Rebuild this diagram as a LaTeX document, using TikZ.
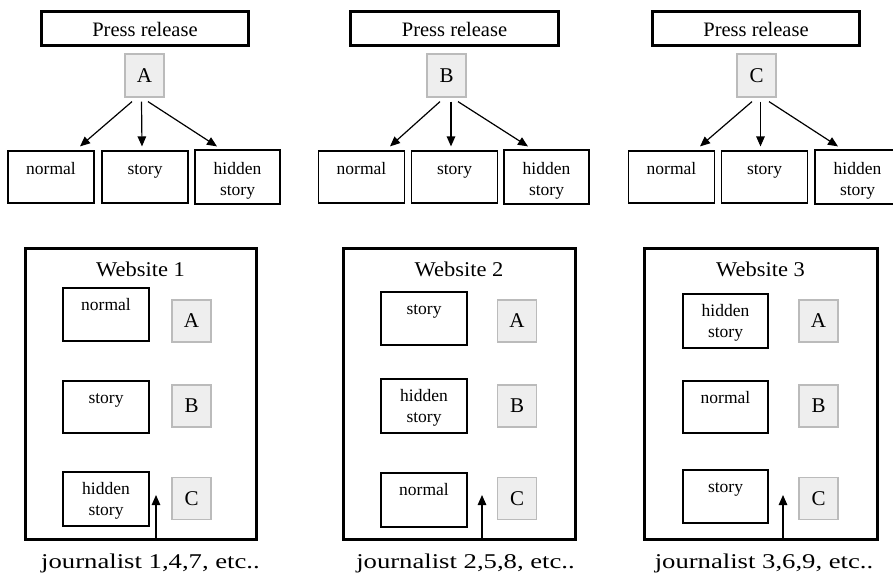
\documentclass[tikz,border=0pt]{standalone}
\usepackage{fontspec}
\setmainfont{Liberation Serif}
\usetikzlibrary{arrows.meta}
\definecolor{grayfill}{HTML}{EEEEEE}
\definecolor{grayline}{HTML}{BBBBBB}
\newcommand{\wide}[2]{\scalebox{#1}[1]{#2}}
\begin{document}
\begin{tikzpicture}[x=1pt,y=-1pt,
  thinbox/.style={draw=black,line width=1.2pt,inner sep=0pt,minimum width=86pt,minimum height=53pt},
  thickbox/.style={draw=black,line width=3pt,inner sep=0pt},
  letterbox/.style={draw=grayline,fill=grayfill,line width=1.2pt,inner sep=0pt,minimum width=39pt,minimum height=42pt,font=\fontsize{21}{24}\selectfont},
  lbl/.style={anchor=base,inner sep=0pt,font=\fontsize{17.5}{21}\selectfont},
  big/.style={anchor=base,inner sep=0pt,font=\fontsize{20.5}{24}\selectfont},
  web/.style={anchor=base,inner sep=0pt,font=\fontsize{21}{24}\selectfont},
  arr/.style={line width=1.2pt,-{Triangle[length=10pt,width=8.5pt]}}
]
\path[use as bounding box] (0,0) rectangle (893,576);
\clip (0,0) rectangle (893,576);

% ---------------- top panels ----------------
% panel 1
\node[thickbox,minimum width=207pt,minimum height=34pt] (pr1) at (145,28.5) {};
\node[big] at (145,36) {Press release};
\node[letterbox,minimum height=43pt] (ga) at (144.5,75.5) {A};
\node[thinbox,minimum height=52pt] (t1n) at (51,177) {};
\node[thinbox,minimum height=52pt] (t1s) at (145,177) {};
\node[thinbox,minimum width=85pt,minimum height=54pt] (t1h) at (237.5,177) {};
\node[lbl] at ([yshift=-24pt]t1n.north) {normal};
\node[lbl] at ([yshift=-24pt]t1s.north) {story};
\node[lbl] at ([yshift=-25pt]t1h.north) {\begin{tabular}[t]{@{}c@{}}hidden\\story\end{tabular}};
\draw[arr] ([xshift=-12.5pt,yshift=-4pt]ga.south) -- ([xshift=29pt,yshift=4pt]t1n.north);
\draw[arr] ([xshift=-3pt,yshift=-4pt]ga.south) -- ([xshift=-3pt,yshift=4pt]t1s.north);
\draw[arr] ([xshift=3.5pt,yshift=-4pt]ga.south) -- ([xshift=-20.5pt,yshift=3pt]t1h.north);

% panel 2
\node[thickbox,minimum width=208pt,minimum height=34pt] (pr2) at (454.5,28.5) {};
\node[big] at (454.5,36) {Press release};
\node[letterbox,minimum height=43pt] (gb) at (446.5,75.5) {B};
\node[thinbox,minimum height=52pt] (t2n) at (361.5,177) {};
\node[thinbox,minimum height=52pt] (t2s) at (454.5,177) {};
\node[thinbox,minimum width=85pt,minimum height=54pt] (t2h) at (546.5,177) {};
\node[lbl] at ([yshift=-24pt]t2n.north) {normal};
\node[lbl] at ([yshift=-24pt]t2s.north) {story};
\node[lbl] at ([yshift=-25pt]t2h.north) {\begin{tabular}[t]{@{}c@{}}hidden\\story\end{tabular}};
\draw[arr] ([xshift=-6.5pt,yshift=-4pt]gb.south) -- ([xshift=28.5pt,yshift=4pt]t2n.north);
\draw[arr] ([xshift=4.5pt,yshift=-4pt]gb.south) -- ([xshift=-3.5pt,yshift=4pt]t2s.north);
\draw[arr] ([xshift=11.5pt,yshift=-4pt]gb.south) -- ([xshift=-18.5pt,yshift=3pt]t2h.north);

% panel 3
\node[thickbox,minimum width=207pt,minimum height=34pt] (pr3) at (756,28.5) {};
\node[big] at (756,36) {Press release};
\node[letterbox,minimum height=43pt] (gc) at (756.5,75.5) {C};
\node[thinbox,minimum height=52pt] (t3n) at (671.5,177) {};
\node[thinbox,minimum height=52pt] (t3s) at (764.5,177) {};
\node[thinbox,minimum width=85pt,minimum height=54pt] (t3h) at (857.5,177) {};
\node[lbl] at ([yshift=-24pt]t3n.north) {normal};
\node[lbl] at ([yshift=-24pt]t3s.north) {story};
\node[lbl] at ([yshift=-25pt]t3h.north) {\begin{tabular}[t]{@{}c@{}}hidden\\story\end{tabular}};
\draw[arr] ([xshift=-4.5pt,yshift=-4pt]gc.south) -- ([xshift=28.5pt,yshift=4pt]t3n.north);
\draw[arr] ([xshift=4pt,yshift=-4pt]gc.south) -- ([xshift=-4pt,yshift=4pt]t3s.north);
\draw[arr] ([xshift=12.5pt,yshift=-4pt]gc.south) -- ([xshift=-19.5pt,yshift=3pt]t3h.north);

% ---------------- bottom panels ----------------
% website 1
\node[thickbox,minimum width=231pt,minimum height=291pt] (w1) at (140.5,393.5) {};
\node[web] at (140.5,276) {\wide{1.07}{Website 1}};
\node[thinbox] (w1a) at (106,314.5) {};
\node[thinbox,minimum height=52pt] (w1b) at (106,407) {};
\node[thinbox,minimum height=54pt] (w1c) at (106,499) {};
\node[lbl] at ([yshift=-23pt]w1a.north) {normal};
\node[lbl] at ([yshift=-23pt]w1b.north) {story};
\node[lbl] at ([yshift=-23pt]w1c.north) {\begin{tabular}[t]{@{}c@{}}hidden\\story\end{tabular}};
\node[letterbox] (w1ga) at (191.5,321) {A};
\node[letterbox] (w1gb) at (191.5,406) {B};
\node[letterbox] (w1gc) at (191.5,498.5) {C};
\coordinate (j1) at (156,495);
\draw[arr] ([xshift=15.5pt]w1.south) -- (j1);
\node[web] (jt1) at (150.5,568) {\wide{1.27}{journalist 1,4,7, etc..}};

% website 2
\node[thickbox,minimum width=232pt,minimum height=291pt] (w2) at (459,393.5) {};
\node[web] at (459,276) {\wide{1.07}{Website 2}};
\node[thinbox] (w2a) at (424,318.5) {};
\node[thinbox,minimum height=54pt] (w2b) at (424,406) {};
\node[thinbox,minimum height=54pt] (w2c) at (424,500) {};
\node[lbl] at ([yshift=-23pt]w2a.north) {story};
\node[lbl] at ([yshift=-23pt]w2b.north) {\begin{tabular}[t]{@{}c@{}}hidden\\story\end{tabular}};
\node[lbl] at ([yshift=-23pt]w2c.north) {normal};
\node[letterbox] (w2ga) at (517,321) {A};
\node[letterbox] (w2gb) at (517,406) {B};
\node[letterbox] (w2gc) at (517,498.5) {C};
\coordinate (j2) at (482,495);
\draw[arr] ([xshift=23pt]w2.south) -- (j2);
\node[web] (jt2) at (465.5,568) {\wide{1.27}{journalist 2,5,8, etc..}};

% website 3
\node[thickbox,minimum width=233pt,minimum height=291pt] (w3) at (760.5,393.5) {};
\node[web] at (760.5,276) {\wide{1.07}{Website 3}};
\node[thinbox,minimum width=85pt,minimum height=54pt] (w3a) at (725.5,321) {};
\node[thinbox,minimum width=85pt,minimum height=52pt] (w3b) at (725.5,407) {};
\node[thinbox,minimum width=85pt] (w3c) at (725.5,496.5) {};
\node[lbl] at ([yshift=-23pt]w3a.north) {\begin{tabular}[t]{@{}c@{}}hidden\\story\end{tabular}};
\node[lbl] at ([yshift=-23pt]w3b.north) {normal};
\node[lbl] at ([yshift=-23pt]w3c.north) {story};
\node[letterbox] (w3ga) at (818.5,321) {A};
\node[letterbox] (w3gb) at (818.5,406) {B};
\node[letterbox] (w3gc) at (818.5,498.5) {C};
\coordinate (j3) at (783,495);
\draw[arr] ([xshift=22.5pt]w3.south) -- (j3);
\node[web] (jt3) at (764,568) {\wide{1.27}{journalist 3,6,9, etc..}};
\end{tikzpicture}
\end{document}
